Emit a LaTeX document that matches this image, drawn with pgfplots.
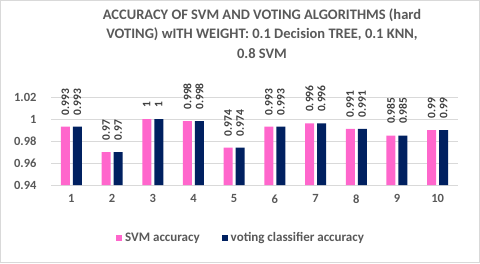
\documentclass[border=0pt]{standalone}
\usepackage{pgfplots}
\pgfplotsset{compat=1.18}
\usepackage{fontspec}
\setmainfont{Carlito}
\definecolor{svmpink}{HTML}{FF66CC}
\definecolor{votenavy}{HTML}{002060}
\definecolor{txtgray}{HTML}{595959}
\definecolor{lblgray}{HTML}{404040}
\definecolor{gridgray}{HTML}{D9D9D9}
\begin{document}
\begin{tikzpicture}
\draw[gridgray, line width=1pt] (0.5pt,0.5pt) rectangle (479.5pt,262.5pt);
\node[align=center, font=\fontsize{14.5}{19.5}\selectfont\bfseries, text=txtgray] at (262pt,229.5pt)
  {ACCURACY OF SVM AND VOTING ALGORITHMS (hard\\VOTING) wITH WEIGHT: 0.1 Decision TREE, 0.1 KNN,\\0.8 SVM};
\begin{axis}[
  at={(51pt,78pt)}, anchor=south west,
  scale only axis, width=407pt, height=88pt,
  xmin=0.5, xmax=10.5, ymin=0.94, ymax=1.02,
  xtick={1,...,10},
  ytick={0.94,0.96,0.98,1,1.02},
  yticklabels={0.94,0.96,0.98,1,1.02},
  ymajorgrids, grid style={gridgray, line width=0.8pt},
  axis y line*=left, axis x line*=bottom,
  y axis line style={draw=none},
  x axis line style={gridgray, line width=0.8pt},
  major tick length=0pt,
  tick label style={font=\fontsize{12.5}{14}\selectfont\bfseries, text=txtgray},
  /pgf/number format/assume math mode=true,
  xticklabel style={yshift=-6pt},
  yticklabel style={xshift=-11pt},
  ybar=3pt, bar width=9pt,
  clip=false,
  nodes near coords,
  every node near coord/.append style={rotate=90, anchor=west, font=\fontsize{11.5}{12}\selectfont\bfseries, text=lblgray, xshift=8pt},
  point meta=explicit symbolic,
  legend style={at={(0.467,-0.6)}, anchor=center, draw=none, legend columns=2,
    font=\fontsize{13}{14}\selectfont\bfseries, text=txtgray,
    /tikz/every even column/.append style={column sep=20pt},
    /tikz/every odd column/.append style={column sep=1pt}},
  legend image code/.code={\fill[#1] (0pt,-3pt) rectangle (6pt,3pt);},
]
\addplot[fill=svmpink, draw=none] coordinates {
 (1,0.993) [0.993] (2,0.97) [0.97] (3,1) [1] (4,0.998) [0.998] (5,0.974) [0.974]
 (6,0.993) [0.993] (7,0.996) [0.996] (8,0.991) [0.991] (9,0.985) [0.985] (10,0.99) [0.99]};
\addplot[fill=votenavy, draw=none] coordinates {
 (1,0.993) [0.993] (2,0.97) [0.97] (3,1) [1] (4,0.998) [0.998] (5,0.974) [0.974]
 (6,0.993) [0.993] (7,0.996) [0.996] (8,0.991) [0.991] (9,0.985) [0.985] (10,0.99) [0.99]};
\legend{SVM accuracy, voting classifier accuracy}
\end{axis}
\end{tikzpicture}
\end{document}
